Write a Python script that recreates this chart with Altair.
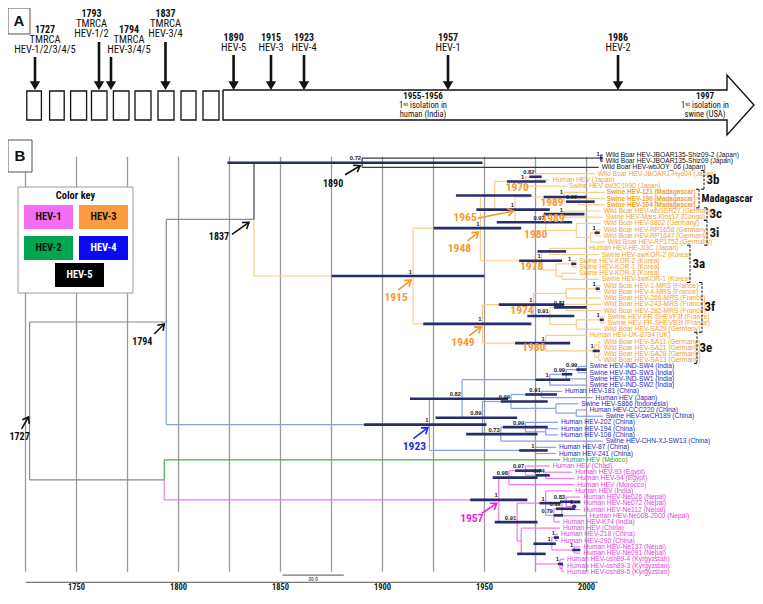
import math
import altair as alt
import pandas as pd

# ------------------------------------------------------------------ data
tip_labels = [
    "Wild Boar HEV-JBOAR135-Shiz09-2 (Japan)", "Wild Boar HEV-JBOAR135-Shiz09 (Japan)", "Wild Boar HEV-wbJOY_06 (Japan)",
    "Wild Boar HEV-JBOAR1-Hyo04 (Japan)", "Human HEV (Japan)", "Swine HEV-swJC1990 (Japan)",
    "Swine HEV-121 (Madagascar)", "Swine HEV-190 (Madagascar)", "Swine HEV-104 (Madagascar)",
    "Wild Boar HEV-wbGER27 (Germany)", "Swine HEV-Mars-Kins17 (Congo)", "Wild Boar HEV-8802 (Germany)",
    "Wild Boar HEV-RP1658 (Germany)", "Wild Boar HEV-RP1647 (Germany)", "Wild Boar HEV-RP1752 (Germany)",
    "Human HEV-HE-JI3C (Japan)", "Swine HEV-swKOR-2 (Korea)", "Swine HEV-KOR-2 (Korea)", "Swine HEV-KOR-1 (Korea)",
    "Swine HEV-KOR-3 (Korea)", "Swine HEV-swKOR-1 (Korea)", "Wild Boar HEV-1-MRS (France)", "Wild Boar HEV-4-MRS (France)",
    "Wild Boar HEV-266-MRS (France)", "Wild Boar HEV-243-MRS (France)", "Wild Boar HEV-282-MRS (France)",
    "Swine HEV-FR-SHEVF3f (France)", "Swine HEV-FR-SHEVB3f (France)", "Wild Boar HEV-SA29 (Germany)",
    "Human HEV-UK-8734 (UK)", "Wild Boar HEV-SA11 (Germany)", "Wild Boar HEV-SA21 (Germany)",
    "Wild Boar HEV-SA28 (Germany)", "Wild Boar HEV-SA13 (Germany)",
    "Swine HEV-IND-SW4 (India)", "Swine HEV-IND-SW3 (India)", "Swine HEV-IND-SW1 (India)", "Swine HEV-IND-SW2 (India)",
    "Human HEV-181 (China)", "Human HEV (Japan)", "Swine HEV-S866 (Indonesia)", "Human HEV-CCC220 (China)",
    "Swine HEV-swCH189 (China)", "Human HEV-202 (China)", "Human HEV-194 (China)", "Human HEV-108 (China)",
    "Swine HEV-CHN-XJ-SW13 (China)", "Human HEV-87 (China)", "Human HEV-241 (China)",
    "Human HEV (Mexico)",
    "Human HEV (Chad)", "Human HEV-93 (Egypt)", "Human HEV-94 (Egypt)", "Human HEV (Morocco)", "Human HEV (India)",
    "Human HEV-Ne026 (Nepal)", "Human HEV-Ne072 (Nepal)", "Human HEV-Ne112 (Nepal)", "Human HEV-Ne008-2000 (Nepal)",
    "Human HEV-K74 (India)", "Human HEV (China)", "Human HEV-218 (China)", "Human HEV-290 (China)",
    "Human HEV-Ne137 (Nepal)", "Human HEV-Ne091 (Nepal)", "Human HEV-osh89-4 (Kyrgyzstan)",
    "Human HEV-osh89-3 (Kyrgyzstan)", "Human HEV-osh89-5 (Kyrgyzstan)",
]
tip_years = [
    2008, 2008, 2006,
    2004, 1982, 1990, 2009, 2009, 2009, 2007, 2008, 2007, 2007, 2007, 2009,
    2000, 2006, 1995, 1995, 1995, 2006, 2007, 2007, 2007, 2007, 2007, 2009, 2009, 2007,
    2000, 2007, 2007, 2007, 2007,
    2000, 2000, 2000, 2000, 1988, 2003, 1996, 2000, 2008, 1986, 1986, 1986, 2008, 1985, 1985,
    1987,
    1982, 1993, 1994, 1994, 1993, 1997, 1997, 1997, 2000, 1987, 1987, 1986, 1986, 1997, 1997,
    1989, 1989, 1989,
]
tip_clades = [5] * 3 + [3] * 31 + [4] * 15 + [2] + [1] * 18
bold_tips = [6, 7, 8]

node_ids = ["root", "N1794", "N1837", "N1890", "N5a", "N1915", "N1948", "N1955", "N1970", "N082",
            "N1965", "NMad", "N090", "N097", "N3c", "N3i", "NRP2", "NRP", "N1978", "Na",
            "NK", "NK21", "NKb", "N1949", "N1974", "NA", "N14", "NB", "NB1", "NB2",
            "NFR", "N1980b", "NSA", "NSA1", "NSA2", "N1923", "N082h", "NIND", "NIND1", "NIND2",
            "N089", "N099a", "N091h", "Ns", "Nc", "N073", "N099b", "N194", "N87", "N1793",
            "N1957", "N098", "N097p", "N074", "N091p", "NIN", "N079", "N1b", "N083", "N092",
            "NCh", "NX", "N1c", "N218", "NNep", "Nosh", "Nosh2"]
node_years = [1727, 1794, 1837, 1890, 2007, 1915, 1948, 1955, 1970, 1975,
              1965, 1989, 1996, 1980, 1989, 1995, 2002, 2005, 1978, 1982,
              1985, 1993, 1988, 1949, 1974, 1990, 2005, 1982, 1990, 1995,
              2007, 1980, 2004, 2006, 2006, 1923, 1939, 1982, 1990, 1996,
              1949, 1963, 1978, 1985, 1995, 1958, 1970, 1980, 1975, 1793,
              1957, 1962, 1970, 1980, 1966, 1980, 1984, 1988, 1990, 1994,
              1968, 1975, 1983, 1985, 1994, 1987, 1988]
node_children = [
    ["N1794", "N1793"], ["N1837", "N1923"], ["N1890", "N1915"], ["N5a", "t2"], ["t0", "t1"],
    ["N1948", "N1949"], ["N1955", "N1978"], ["N1970", "N1965"], ["N082", "t5"], ["t3", "t4"],
    ["NMad", "N097"], ["t6", "N090"], ["t7", "t8"], ["N3c", "N3i"], ["t9", "t10"],
    ["t11", "NRP2"], ["NRP", "t14"], ["t12", "t13"], ["Na", "NK"], ["t15", "t16"],
    ["NK21", "NKb"], ["t17", "t18"], ["t19", "t20"], ["N1974", "N1980b"], ["NA", "NB"],
    ["N14", "t23"], ["t21", "t22"], ["NB1", "NB2"], ["t24", "t25"], ["NFR", "t28"],
    ["t26", "t27"], ["t29", "NSA"], ["NSA1", "NSA2"], ["t30", "t31"], ["t32", "t33"],
    ["N082h", "N87"], ["NIND", "N089"], ["NIND1", "t37"], ["NIND2", "t36"], ["t34", "t35"],
    ["N099a", "N073"], ["N091h", "Ns"], ["t38", "t39"], ["t40", "Nc"], ["t41", "t42"],
    ["N099b", "t46"], ["t43", "N194"], ["t44", "t45"], ["t47", "t48"], ["t49", "N1957"],
    ["N098", "N091p"], ["N097p", "t53"], ["t50", "N074"], ["t51", "t52"], ["NIN", "NCh"],
    ["t54", "N079"], ["N1b", "t59"], ["N083", "t58"], ["t55", "N092"], ["t56", "t57"],
    ["t60", "NX"], ["N1c", "Nosh"], ["N218", "NNep"], ["t61", "t62"], ["t63", "t64"],
    ["t65", "Nosh2"], ["t66", "t67"],
]
node_posteriors = ["", "", "", "0.72", "1", "1", "1", "", "1", "0.82",
                   "1", "1", "0.90", "0.97", "1", "", "", "1", "1", "",
                   "", "1", "", "1", "1", "", "1", "0.91", "0.81", "",
                   "1", "1", "1", "", "", "1", "0.82", "1", "0.99", "0.99",
                   "0.89", "0.99", "0.91", "", "", "0.73", "0.99", "", "1", "",
                   "1", "0.98", "0.97", "0.74", "0.91", "1", "0.79", "0.92", "0.83", "1",
                   "", "", "1", "1", "1", "1", ""]
node_hpd_low = [None, None, None, 1824, 2006.5, 1875, 1925, 1936, 1961, 1972,
                1946, 1979, 1990, 1956, 1979, None, None, 2004, 1967, 1976,
                None, 1992.5, None, 1920, 1957, None, 2004.5, 1971, 1984, None,
                2006.5, 1965, 2003, None, None, 1891, 1913.5, 1975, 1988, 1995,
                1926, 1958, 1970, None, None, 1941, 1959, None, 1967, None,
                1943, 1954, 1965, 1975, 1955, 1977, 1984, 1985, 1987, 1993,
                None, 1966, 1974, 1984, 1993, 1986, None]
node_hpd_high = [None, None, None, 1949, 2008, 1950, 1968, 1973, 1980, 1978,
                 1982, 2000, 2004, 1993, 1999, None, None, 2006.5, 1988, 1990,
                 None, 1995, None, 1973, 1989, None, 2006.5, 1994, 2000, None,
                 2008.5, 1992, 2006.5, None, None, 1951, 1961.5, 1992, 1993, 2000,
                 1966, 1981, 1985.5, None, None, 1976, 1981, None, 1981, None,
                 1971, 1976, 1978, 1982, 1976, 1987, 1988.5, 1994.5, 1997, 1995,
                 None, 1980, 1985, 1986.5, 1997, 1988.5, None]
node_clades = [0, 0, 0, 5, 5] + [3] * 30 + [4] * 14 + [0] + [1] * 17

# dated annotations (TMRCA labels) in panel B
ann_text = ["1727", "1794", "1837", "1890", "1915", "1948", "1965", "1970", "1989", "1989",
            "1980", "1978", "1974", "1949", "1980", "1923", "1957"]
ann_node = ["root", "N1794", "N1837", "N1890", "N1915", "N1948", "N1965", "N1970", "NMad", "N3c",
            "N097", "N1978", "N1974", "N1949", "N1980b", "N1923", "N1957"]
ann_group = ["k", "k", "k", "k", "o", "o", "o", "o", "o", "o", "o", "o", "o", "o", "o", "b", "m"]

# clade brackets
bracket_labels = ["3b", "Madagascar", "3c", "3i", "3a", "3f", "3e"]
bracket_first = [3, 6, 9, 11, 15, 21, 29]
bracket_last = [5, 8, 10, 14, 20, 28, 33]

# panel A timeline
a_years = ["1727", "1793", "1794", "1837", "1890", "1915", "1923", "1957", "1986"]
a_line2 = ["TMRCA", "TMRCA", "TMRCA", "TMRCA", "HEV-5", "HEV-3", "HEV-4", "HEV-1", "HEV-2"]
a_line3 = ["HEV-1/2/3/4/5", "HEV-1/2", "HEV-3/4/5", "HEV-3/4", "", "", "", "", ""]
legend_names = ["HEV-1", "HEV-3", "HEV-2", "HEV-4", "HEV-5"]
legend_fill = ["#f46cf2", "#f99b3e", "#00a651", "#0a0af2", "#000000"]
legend_text = ["#111111", "#111111", "#111111", "#ffffff", "#ffffff"]
axis_years = [1750, 1800, 1850, 1900, 1950, 2000]
grid_years = list(range(1725, 2001, 25))

# ------------------------------------------------------------------ layout / styles
W, H = 747, 584
FONT = "Liberation Sans Narrow, Roboto Condensed, Roboto, Liberation Sans, sans-serif"
TIPFONT = "Liberation Sans, Arial, sans-serif"
PX_YEAR = 2.04
X1950 = 484.5
X0 = 1950 - (X1950 - 8) / PX_YEAR
X1 = X0 + W / PX_YEAR
ROW_PX = 6.22
ROW0 = 155
R0 = (8 - ROW0) / ROW_PX
R1 = R0 + H / ROW_PX

BRANCH_COL = {0: "#8a8a8a", 1: "#f277f0", 2: "#3cb44b", 3: "#f9cd8a", 4: "#86a0e6", 5: "#3a3a3a"}
LABEL_COL = {1: "#e23fde", 2: "#2e9e44", 3: "#f29e30", 4: "#1f1fc4", 5: "#111111"}
ANN_COL = {"k": "#111111", "o": "#f5982e", "b": "#1d2fd6", "m": "#f01ee6"}
HPD_COL = "#262c6c"

xs = alt.Scale(domain=[X0, X1], nice=False, zero=False)
ys = alt.Scale(domain=[R0, R1], nice=False, zero=False, reverse=True)
cxs = alt.Scale(domain=[8, 8 + W], nice=False, zero=False)
cys = alt.Scale(domain=[8, 8 + H], nice=False, zero=False, reverse=True)


def TX(f="x"):
    return alt.X(f"{f}:Q", scale=xs, axis=None)


def TY(f="y"):
    return alt.Y(f"{f}:Q", scale=ys, axis=None)


def CX(f="x"):
    return alt.X(f"{f}:Q", scale=cxs, axis=None)


def CY(f="y"):
    return alt.Y(f"{f}:Q", scale=cys, axis=None)


COL = alt.Color("col:N", scale=None)

# ------------------------------------------------------------------ tree geometry
pos = {}
for i in range(len(tip_labels)):
    pos[f"t{i}"] = (tip_years[i], float(i))
nidx = {n: i for i, n in enumerate(node_ids)}


def place(n):
    if n in pos:
        return pos[n]
    i = nidx[n]
    rows = [place(c)[1] for c in node_children[i]]
    pos[n] = (node_years[i], (rows[0] + rows[-1]) / 2)
    return pos[n]


place("root")


def clade_of(n):
    return tip_clades[int(n[1:])] if n.startswith("t") and n[1:].isdigit() else node_clades[nidx[n]]


segs = []
for i, n in enumerate(node_ids):
    px_, pr = pos[n]
    for c in node_children[i]:
        cx_, cr = pos[c]
        col = BRANCH_COL[clade_of(c)]
        segs.append(dict(x=px_, x2=px_, y=pr, y2=cr, col=col))
        segs.append(dict(x=px_, x2=cx_, y=cr, y2=cr, col=col))
segs_df = pd.DataFrame(segs)

hpd_df = pd.DataFrame([dict(x=node_hpd_low[i], x2=node_hpd_high[i], y=pos[n][1])
                       for i, n in enumerate(node_ids) if node_hpd_low[i] is not None])
post_df = pd.DataFrame([dict(x=pos[n][0], y=pos[n][1], t=node_posteriors[i])
                        for i, n in enumerate(node_ids) if node_posteriors[i]])

tips_df = pd.DataFrame(dict(x=tip_years, y=[float(i) for i in range(len(tip_labels))],
                            label=tip_labels, col=[LABEL_COL[c] for c in tip_clades]))
tips_df["bold"] = [i in bold_tips for i in range(len(tip_labels))]

# annotation placement offsets (px) relative to the dated node
ann_text_off = {"root": (-10, 36), "N1794": (-24, 20), "N1837": (-35, 18), "N1890": (-29, 21),
                "N1915": (-17, 22), "N1948": (-21, 21), "N1965": (-50, 8.5), "N1970": (-8, 6.5),
                "NMad": (-12, 6), "N3c": (-11, 4.5), "N097": (-10, 13), "N1978": (-10, 6),
                "N1974": (-11.5, 6), "N1949": (-19.5, 19), "N1980b": (-12, 5), "N1923": (-15, 22),
                "N1957": (-27, 19.5)}
ann_arrow_off = {"root": ((-8, 28), (-1, 16)), "N1794": ((-12, 12), (-2, 2)),
                 "N1837": ((-22, 15), (-5, 3)), "N1890": ((-17, 12), (-2, 3)),
                 "N1915": ((-15, 14), (-2, 4)), "N1948": ((-13, 13), (-2, 4)),
                 "N1965": ((-37, 8.5), (-2, 1.5)), "N1949": ((-13.5, 12), (-1.5, 3)),
                 "N1923": ((-16, 14), (-1.5, 3)), "N1957": ((-17, 13.5), (-2, 3.5))}

ann_rows, arr_rows, head_rows = [], [], []
for t, n, g in zip(ann_text, ann_node, ann_group):
    nx, ny = pos[n]
    ox, oy = ann_text_off[n]
    ann_rows.append(dict(x=nx + ox / PX_YEAR, y=ny + oy / ROW_PX, t=t, col=ANN_COL[g],
                         size=10 if g == "k" else 11.5))
    if n in ann_arrow_off:
        (sx, sy), (ex, ey) = ann_arrow_off[n]
        arr_rows.append(dict(x=nx + sx / PX_YEAR, y=ny + sy / ROW_PX,
                             x2=nx + ex / PX_YEAR, y2=ny + ey / ROW_PX, col=ANN_COL[g]))
        ang = math.degrees(math.atan2(ex - sx, -(ey - sy))) % 360
        head_rows.append(dict(x=nx + ex / PX_YEAR, y=ny + ey / ROW_PX, ang=ang, col=ANN_COL[g]))
ann_df = pd.DataFrame(ann_rows)
arr_df = pd.DataFrame(arr_rows)
head_df = pd.DataFrame(head_rows)

bracket_x_px = [704, 699, 707, 707, 690, 702, 697]
br_rows, br_lab = [], []
for lab, a, b, bx in zip(bracket_labels, bracket_first, bracket_last, bracket_x_px):
    xv = 1950 + (bx - X1950) / PX_YEAR
    top, bot = a - 0.5, b + 0.5
    tick = 3 / PX_YEAR
    br_rows.append(dict(x=xv, x2=xv, y=top, y2=bot, dash=1))
    br_rows.append(dict(x=xv - tick, x2=xv, y=top, y2=top, dash=0))
    br_rows.append(dict(x=xv - tick, x2=xv, y=bot, y2=bot, dash=0))
    br_lab.append(dict(x=xv + 2.5 / PX_YEAR, y=(top + bot) / 2, t=lab,
                       size=10.5 if lab == "Madagascar" else 13))
br_df = pd.DataFrame(br_rows)
brl_df = pd.DataFrame(br_lab)

grid_df = pd.DataFrame(dict(x=grid_years, y=[0.3] * len(grid_years), y2=[67.0] * len(grid_years)))
axl_df = pd.DataFrame(dict(x=axis_years, y=[70.0] * len(axis_years), t=[str(v) for v in axis_years]))

# ------------------------------------------------------------------ panel B (tree coords)
grid = alt.Chart(grid_df).mark_rule(color="#9b9b9b", strokeWidth=1.3).encode(
    x=TX(), y=TY(), y2="y2:Q")
branches = alt.Chart(segs_df).mark_rule(strokeWidth=1.2).encode(
    x=TX(), x2="x2:Q", y=TY(), y2="y2:Q", color=COL)
hpd = alt.Chart(hpd_df).mark_rule(color=HPD_COL, strokeWidth=2.6).encode(
    x=TX(), x2="x2:Q", y=TY())
post = alt.Chart(post_df).mark_text(align="right", baseline="bottom", dx=-1, dy=-1.5,
                                    fontSize=5.8, fontWeight="bold", font=TIPFONT, color="#222").encode(
    x=TX(), y=TY(), text="t:N")
tipl = alt.Chart(tips_df).transform_filter("!datum.bold").mark_text(
    align="left", baseline="middle", dx=3, fontSize=6.7, font=TIPFONT).encode(
    x=TX(), y=TY(), text="label:N", color=COL)
tipb = alt.Chart(tips_df).transform_filter("datum.bold").mark_text(
    align="left", baseline="middle", dx=2, fontSize=6.4, fontWeight="bold", font=TIPFONT).encode(
    x=TX(), y=TY(), text="label:N", color=COL)
ann = alt.Chart(ann_df).mark_text(fontWeight="bold", font=FONT, baseline="middle").encode(
    x=TX(), y=TY(), text="t:N", color=COL, size=alt.Size("size:Q", scale=None))
arrows = alt.Chart(arr_df).mark_rule(strokeWidth=1.6).encode(
    x=TX(), x2="x2:Q", y=TY(), y2="y2:Q", color=COL)
heads = alt.Chart(head_df).mark_point(shape="M -0.7 1 L 0 0 L 0.7 1", filled=False, size=130,
                                      strokeWidth=1.6, opacity=1).encode(
    x=TX(), y=TY(), color=COL, angle=alt.Angle("ang:Q", scale=None))
brk = alt.Chart(br_df).mark_rule(color="#111", strokeWidth=1).encode(
    x=TX(), x2="x2:Q", y=TY(), y2="y2:Q",
    strokeDash=alt.StrokeDash("dash:N", scale=alt.Scale(domain=[0, 1], range=[[1, 0], [2.5, 1.5]]),
                              legend=None))
brl = alt.Chart(brl_df).mark_text(align="left", baseline="middle", fontWeight="bold", font=FONT,
                                  color="#111").encode(
    x=TX(), y=TY(), text="t:N", size=alt.Size("size:Q", scale=None))
axis_line = alt.Chart(pd.DataFrame(dict(x=[1725], x2=[2005.5], y=[68.7]))).mark_rule(
    color="#777", strokeWidth=1.2).encode(x=TX(), x2="x2:Q", y=TY())
axis_lab = alt.Chart(axl_df).mark_text(baseline="alphabetic", fontSize=8.5, fontWeight="bold",
                                        font=FONT, color="#222").encode(x=TX(), y=TY(), text="t:N")
sbar = alt.Chart(pd.DataFrame(dict(x=[1851], x2=[1881], y=[67.55]))).mark_rule(
    color="#777", strokeWidth=1.2).encode(x=TX(), x2="x2:Q", y=TY())
sbar_lab = alt.Chart(pd.DataFrame(dict(x=[1866], y=[67.8], t=["30.0"]))).mark_text(
    baseline="top", fontSize=5.5, font=FONT, color="#222").encode(x=TX(), y=TY(), text="t:N")

tree = alt.layer(grid, branches, hpd, post, tipl, tipb, arrows, heads, ann, brk, brl,
                 axis_line, axis_lab, sbar, sbar_lab)

# ------------------------------------------------------------------ canvas (panel A, boxes, legend)
a_text_x = [45, 91.5, 129, 165.5, 233.6, 271, 304, 448, 618]
a_text_y = [30, 14, 30, 14, 38, 38, 38, 38, 38]
a_arrow_x = [35, 99, 111, 165.5, 233.6, 271, 304, 448, 618]
a_arrow_y0 = [57, 42, 57, 42, 55, 55, 55, 55, 55]
A_TIP = 90

a_txt = []
for yr, l2, l3, tx, ty in zip(a_years, a_line2, a_line3, a_text_x, a_text_y):
    a_txt.append(dict(x=tx, y=ty, t=yr, w="bold", s=10))
    a_txt.append(dict(x=tx, y=ty + 10, t=l2, w="normal", s=10.5))
    if l3:
        a_txt.append(dict(x=tx, y=ty + 20, t=l3, w="normal", s=10.5))
for cx_, head in [(423, "1955-1956"), (705, "1997")]:
    a_txt.append(dict(x=cx_, y=96, t=head, w="bold", s=9))
a_txt.append(dict(x=423, y=105, t="1ˢᵗ isolation in", w="normal", s=8.5))
a_txt.append(dict(x=423, y=114, t="human (India)", w="normal", s=8.5))
a_txt.append(dict(x=705, y=105, t="1ˢᵗ isolation in", w="normal", s=8.5))
a_txt.append(dict(x=705, y=114, t="swine (USA)", w="normal", s=8.5))
atxt_df = pd.DataFrame(a_txt)

a_arr_df = pd.DataFrame(dict(x=a_arrow_x, y=a_arrow_y0, y2=[A_TIP - 4] * len(a_arrow_x)))
a_head_df = pd.DataFrame(dict(x=a_arrow_x, y=[A_TIP] * len(a_arrow_x)))

box_x = [26.8, 49.6, 70.6, 91.5, 113.4, 135, 158, 181, 203]
box_w = [14.6, 14.6, 16, 15.5, 15.6, 16, 16, 15, 16]
boxes_df = pd.DataFrame(dict(x=box_x, x2=[a + b for a, b in zip(box_x, box_w)],
                             y=[91] * 9, y2=[120] * 9))
big_arrow = pd.DataFrame(dict(x=[223, 727, 727, 754, 727, 727, 223, 223],
                              y=[90, 90, 75, 105, 135, 120, 120, 90], o=list(range(8))))

frame_df = pd.DataFrame(dict(x=[8, 8], x2=[30, 32], y=[8, 140], y2=[34, 172], t=["A", "B"]))

leg_box = pd.DataFrame(dict(x=[18], x2=[133], y=[187], y2=[293]))
sw_x = [24, 79, 24, 79, 55]
sw_y = [205, 205, 236, 236, 263]
leg_df = pd.DataFrame(dict(x=sw_x, x2=[v + 49 for v in sw_x], y=sw_y, y2=[v + 24 for v in sw_y],
                           fill=legend_fill, tcol=legend_text, t=legend_names))

canvas = alt.layer(
    alt.Chart(boxes_df).mark_rect(fill="white", stroke="#111", strokeWidth=1.3).encode(
        x=CX(), x2="x2:Q", y=CY(), y2="y2:Q"),
    alt.Chart(big_arrow).mark_line(color="#111", strokeWidth=1.4).encode(
        x=CX(), y=CY(), order="o:Q"),
    alt.Chart(a_arr_df).mark_rule(color="#111", strokeWidth=2.6).encode(x=CX(), y=CY(), y2="y2:Q"),
    alt.Chart(a_head_df).mark_point(shape="M 0 0 L -0.6 -1 L 0.6 -1 Z", filled=True, size=300,
                                    color="#111", opacity=1).encode(x=CX(), y=CY()),
    alt.Chart(atxt_df).transform_filter("datum.w == 'bold'").mark_text(
        fontWeight="bold", font=FONT, color="#111", baseline="middle").encode(
        x=CX(), y=CY(), text="t:N", size=alt.Size("s:Q", scale=None)),
    alt.Chart(atxt_df).transform_filter("datum.w != 'bold'").mark_text(
        font=FONT, color="#111", baseline="middle").encode(
        x=CX(), y=CY(), text="t:N", size=alt.Size("s:Q", scale=None)),
    alt.Chart(frame_df).mark_rect(fill="white", stroke="#555", strokeWidth=1).encode(
        x=CX(), x2="x2:Q", y=CY(), y2="y2:Q"),
    alt.Chart(frame_df).transform_calculate(cx="(datum.x + datum.x2) / 2",
                                            cy="(datum.y + datum.y2) / 2").mark_text(
        fontSize=15, fontWeight="bold", font="Liberation Sans", color="#111", baseline="middle").encode(
        x=CX("cx"), y=CY("cy"), text="t:N"),
)

legend = alt.layer(
    alt.Chart(leg_box).mark_rect(fill="white", stroke="#9a9a9a", strokeWidth=1).encode(
        x=CX(), x2="x2:Q", y=CY(), y2="y2:Q"),
    alt.Chart(pd.DataFrame(dict(x=[75.5], y=[196], t=["Color key"]))).mark_text(
        fontSize=10.5, fontWeight="bold", font=FONT, color="#111", baseline="middle").encode(
        x=CX(), y=CY(), text="t:N"),
    alt.Chart(leg_df).mark_rect().encode(
        x=CX(), x2="x2:Q", y=CY(), y2="y2:Q", color=alt.Color("fill:N", scale=None)),
    alt.Chart(leg_df).transform_calculate(cx="(datum.x + datum.x2) / 2",
                                          cy="(datum.y + datum.y2) / 2").mark_text(
        fontSize=10.5, fontWeight="bold", font=FONT, baseline="middle").encode(
        x=CX("cx"), y=CY("cy"), text="t:N", color=alt.Color("tcol:N", scale=None)),
)

chart = alt.layer(tree, alt.layer(canvas, legend)).resolve_scale(
    x="independent", y="independent", color="independent", size="independent",
    strokeDash="independent"
).properties(
    width=W, height=H, padding=0, autosize=alt.AutoSizeParams(type="none")
).configure_view(stroke=None)

chart.save("out.html", embed_options={"renderer": "svg", "actions": False})
